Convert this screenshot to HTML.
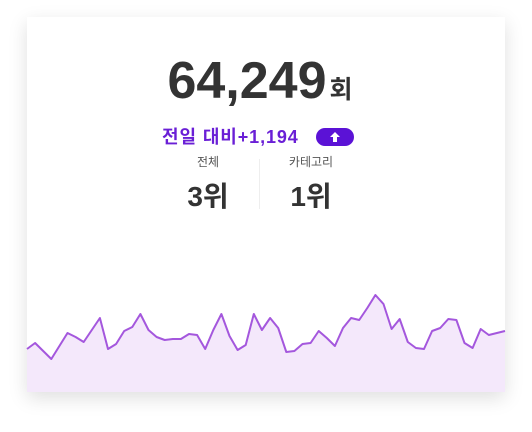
<!DOCTYPE html>
<html><head><meta charset="utf-8"><style>
body{margin:0;width:532px;height:432px;background:#fff;font-family:"Liberation Sans","Noto Sans CJK KR",sans-serif;position:relative;overflow:hidden}
.card{position:absolute;left:27px;top:17px;width:478px;height:375px;background:#fff;box-shadow:0 6px 18px rgba(0,0,0,0.13);overflow:hidden}
.abs{position:absolute;white-space:nowrap}
</style></head><body>
<div class="card">
  <div class="abs" style="left:-6px;width:478px;top:34px;text-align:center;color:#333;font-weight:bold;font-size:52px;line-height:60px">64,249<span style="font-size:25px;margin-left:3px">회</span></div>
  <div class="abs" style="left:135px;top:109px;color:#6a1fd6;font-weight:bold;font-size:18px;letter-spacing:0.9px;line-height:22px">전일 대비+1,194</div>
  <div class="abs" style="left:289px;top:111px;width:38px;height:18px;border-radius:9px;background:#5b12d6">
    <svg width="38" height="18"><path d="M19 4 L24 9 L21 9 L21 14 L17 14 L17 9 L14 9 Z" fill="#fff"/></svg>
  </div>
  <div class="abs" style="left:156px;width:50px;top:136px;text-align:center;color:#555;font-size:12px">전체</div>
  <div class="abs" style="left:146px;width:70px;top:158px;text-align:center;color:#333;font-weight:bold;font-size:28px">3위</div>
  <div class="abs" style="left:232px;top:142px;width:1px;height:50px;background:#eee"></div>
  <div class="abs" style="left:254px;width:60px;top:136px;text-align:center;color:#555;font-size:12px">카테고리</div>
  <div class="abs" style="left:249px;width:70px;top:158px;text-align:center;color:#333;font-weight:bold;font-size:28px">1위</div>
</div>
<svg id="chart" width="532" height="432" style="position:absolute;left:0;top:0"></svg>
<script>
const values=[51,57,49,41,54,67,63,58,70,82,51,56,69,73,86,70,63,60,61,61,66,65,51,70,86,64,50,55,86,70,82,72,48,49,56,57,69,62,54,72,82,80,92,105,96,71,81,58,52,51,69,72,81,80,57,52,71,65,67,69];
const yDomain=[0,100];
const x0=27,x1=505,bottom=392;
function xScale(i){return x0+(x1-x0)*i/(values.length-1);}
function yScale(v){return 400-(v-yDomain[0])/(yDomain[1]-yDomain[0])*100;}
const svg=document.getElementById('chart');
const ns='http://www.w3.org/2000/svg';
let d=values.map((v,i)=>(i?'L':'M')+xScale(i).toFixed(1)+' '+yScale(v).toFixed(1)).join(' ');
const area=document.createElementNS(ns,'path');
area.setAttribute('d',d+' L'+x1+' '+bottom+' L'+x0+' '+bottom+' Z');
area.setAttribute('fill','#f4e8fb');


svg.appendChild(area);
const line=document.createElementNS(ns,'path');
line.setAttribute('d',d);
line.setAttribute('fill','none');
line.setAttribute('stroke','#a457dd');
line.setAttribute('stroke-width','2');
line.setAttribute('stroke-linejoin','round');


svg.appendChild(line);
</script>
</body></html>
